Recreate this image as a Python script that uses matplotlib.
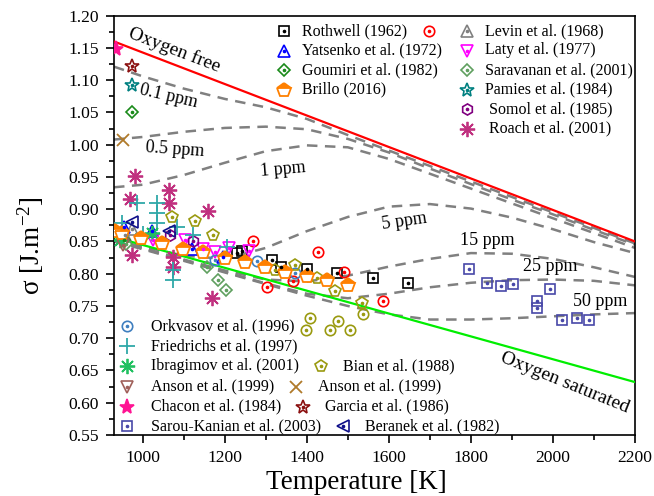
import matplotlib
matplotlib.use("Agg")
import matplotlib.pyplot as plt
from matplotlib.lines import Line2D

plt.rcParams['font.family'] = ['Liberation Serif', 'DejaVu Serif']
plt.rcParams['mathtext.fontset'] = 'custom'
plt.rcParams['mathtext.rm'] = 'Liberation Serif'
plt.rcParams['mathtext.it'] = 'Liberation Serif:italic'

# ---------------- data ----------------
free_T = [930, 2200]
free_sigma = [1.160, 0.850]
sat_T = [930, 2200]
sat_sigma = [0.857, 0.632]

curve_T = [930, 1000, 1100, 1200, 1300, 1400, 1500, 1600, 1700, 1800, 1900, 2000, 2100, 2200]
ppm_0_1 = [1.121, 1.106, 1.087, 1.071, 1.058, 1.040, 1.015, 0.991, 0.967, 0.943, 0.919, 0.895, 0.871, 0.847]
ppm_0_5 = [1.008, 1.012, 1.020, 1.026, 1.028, 1.024, 1.009, 0.988, 0.963, 0.939, 0.915, 0.892, 0.868, 0.845]
ppm_1 = [0.934, 0.938, 0.953, 0.972, 0.990, 0.999, 0.996, 0.978, 0.955, 0.932, 0.909, 0.886, 0.863, 0.840]
ppm_5 = [0.852, 0.842, 0.828, 0.823, 0.840, 0.866, 0.888, 0.904, 0.908, 0.901, 0.887, 0.869, 0.849, 0.832]
ppm_15 = [0.852, 0.840, 0.822, 0.805, 0.791, 0.788, 0.797, 0.811, 0.823, 0.832, 0.831, 0.823, 0.810, 0.795]
ppm_25 = [0.851, 0.839, 0.821, 0.803, 0.785, 0.769, 0.762, 0.769, 0.779, 0.786, 0.790, 0.791, 0.789, 0.782]
ppm_50 = [0.850, 0.838, 0.820, 0.802, 0.784, 0.766, 0.750, 0.737, 0.729, 0.729, 0.731, 0.734, 0.737, 0.739]

rothwell_T = [1229, 1241, 1314, 1336, 1400, 1473, 1562, 1647]
rothwell_s = [0.832, 0.836, 0.821, 0.811, 0.808, 0.801, 0.793, 0.785]
redcircle_T = [1270, 1302, 1366, 1428, 1491, 1586]
redcircle_s = [0.850, 0.780, 0.789, 0.833, 0.802, 0.758]
levin_T = [958, 973]
levin_s = [0.860, 0.870]
yatsenko_T = [955, 1022, 1120, 1195]
yatsenko_s = [0.872, 0.866, 0.838, 0.826]
laty_T = [1026, 1103, 1148, 1176, 1210, 1260]
laty_s = [0.852, 0.852, 0.838, 0.834, 0.840, 0.836]
goumiri_T = [973, 955]
goumiri_s = [1.050, 0.852]
saravanan_T = [1156, 1184, 1203, 960]
saravanan_s = [0.810, 0.791, 0.775, 0.846]
brillo_T = [932, 949, 997, 1046, 1099, 1148, 1200, 1249, 1298, 1347, 1400, 1448, 1500]
brillo_s = [0.866, 0.863, 0.855, 0.847, 0.839, 0.833, 0.825, 0.818, 0.811, 0.803, 0.797, 0.790, 0.782]
pamies_T = [973]
pamies_s = [1.093]
somol_T = [1066, 1123]
somol_s = [0.860, 0.851]
roach_T = [969, 981, 1063, 1063, 1160, 973, 1075, 1073, 1168]
roach_s = [0.916, 0.952, 0.930, 0.909, 0.898, 0.829, 0.826, 0.811, 0.762]
orkvasov_T = [1176, 1278, 1371]
orkvasov_s = [0.821, 0.819, 0.801]
friedrichs_T = [950, 985, 1034, 1034, 1034, 1083, 1075, 1075, 1123, 1205, 1000]
friedrichs_s = [0.878, 0.909, 0.910, 0.894, 0.878, 0.873, 0.806, 0.790, 0.860, 0.842, 0.862]
ibragimov_T = [1022, 945]
ibragimov_s = [0.863, 0.852]
bian_T = [1071, 1127, 1172, 1322, 1371, 1424, 1469, 1534]
bian_s = [0.888, 0.881, 0.860, 0.806, 0.813, 0.793, 0.773, 0.754]
olive_T = [1408, 1398, 1477, 1457, 1506, 1536]
olive_s = [0.732, 0.712, 0.727, 0.713, 0.712, 0.738]
anson_tri_T = [953]
anson_tri_s = [0.845]
anson_x_T = [953]
anson_x_s = [1.007]
chacon_T = [935]
chacon_s = [1.149]
garcia_T = [973]
garcia_s = [1.122]
sarou_T = [1796, 1840, 1873, 1903, 1994, 1962, 1960, 2023, 2058, 2089]
sarou_s = [0.807, 0.785, 0.781, 0.784, 0.776, 0.758, 0.747, 0.728, 0.732, 0.728]
beranek_T = [975, 1065]
beranek_s = [0.880, 0.866]

x_ticks = [1000, 1200, 1400, 1600, 1800, 2000, 2200]
y_ticks = [0.55, 0.60, 0.65, 0.70, 0.75, 0.80, 0.85, 0.90, 0.95, 1.00, 1.05, 1.10, 1.15, 1.20]

# ---------------- styles ----------------
ST = {
    'rothwell': dict(marker='s', color='black', ms=6.5, dot=True),
    'red': dict(marker='o', color='#ff0000', ms=7.5, dot=True),
    'levin': dict(marker='^', color='#808080', ms=8, dot=True),
    'yatsenko': dict(marker='^', color='#0000ff', ms=8, dot=True),
    'laty': dict(marker='v', color='#ff00ff', ms=8, dot=True),
    'goumiri': dict(marker='D', color='#1a8a1a', ms=6.5, dot=True),
    'saravanan': dict(marker='D', color='#5f9f5f', ms=6.5, dot=True),
    'brillo': dict(marker='p', color='#ff8000', ms=10, dot=False, half=True),
    'pamies': dict(marker='*', color='#008080', ms=10, dot=True),
    'somol': dict(marker='h', color='#800080', ms=8, dot=True),
    'roach': dict(marker=(8, 2, 0), color='#c0307f', ms=11, dot=False, line=True),
    'orkvasov': dict(marker='o', color='#3f7fbf', ms=7.5, dot=True),
    'friedrichs': dict(marker='+', color='#2fa8a8', ms=11, dot=False, line=True),
    'ibragimov': dict(marker=(8, 2, 0), color='#20c060', ms=11, dot=False, line=True),
    'bian': dict(marker='p', color='#9a9a10', ms=8.5, dot=True),
    'olive': dict(marker='o', color='#9a9a10', ms=7.5, dot=True),
    'anson_tri': dict(marker='v', color='#a0605a', ms=8, dot=True),
    'anson_x': dict(marker='x', color='#b07a2a', ms=9, dot=False, line=True),
    'chacon': dict(marker='*', color='#ff1493', ms=11, dot=False, filled=True),
    'garcia': dict(marker='*', color='#8b1010', ms=10, dot=True),
    'sarou': dict(marker='s', color='#4848a8', ms=6.5, dot=True),
    'beranek': dict(marker='<', color='#10108a', ms=8, dot=True),
}


def marker_kwargs(st):
    kw = dict(ls='none', marker=st['marker'], ms=st['ms'], mec=st['color'], mew=1.2)
    if st.get('filled'):
        kw['mfc'] = st['color']
    elif st.get('half'):
        kw.update(mfc=st['color'], fillstyle='top', markerfacecoloralt='white', mew=1.3)
    elif st.get('line'):
        kw['mew'] = 1.3
    else:
        kw['mfc'] = 'none'
    return kw


def draw_series(ax, T, s, key):
    st = ST[key]
    ax.plot(T, s, zorder=5, **marker_kwargs(st))
    if st.get('dot'):
        ax.plot(T, s, ls='none', marker='o', ms=1.6, color=st['color'], zorder=6)


W, H = 654, 496
fig = plt.figure(figsize=(W / 100, H / 100), dpi=100)
ax = fig.add_axes([114 / W, 1 - 435 / H, (635 - 114) / W, (435 - 15.7) / H])


def fx(px):
    return px / W


def fy(py):
    return 1 - py / H


# lines
ax.plot(free_T, free_sigma, color='#ff0000', lw=1.6, zorder=3)
ax.plot(sat_T, sat_sigma, color='#00ee00', lw=1.6, zorder=3)
for c in [ppm_0_1, ppm_0_5, ppm_1, ppm_5, ppm_15, ppm_25, ppm_50]:
    ax.plot(curve_T, c, color='#808080', lw=1.8, dashes=(4.2, 3.0), zorder=2)

series = [
    (rothwell_T, rothwell_s, 'rothwell'), (redcircle_T, redcircle_s, 'red'),
    (levin_T, levin_s, 'levin'), (yatsenko_T, yatsenko_s, 'yatsenko'),
    (laty_T, laty_s, 'laty'), (goumiri_T, goumiri_s, 'goumiri'),
    (saravanan_T, saravanan_s, 'saravanan'), (pamies_T, pamies_s, 'pamies'),
    (somol_T, somol_s, 'somol'), (roach_T, roach_s, 'roach'),
    (orkvasov_T, orkvasov_s, 'orkvasov'), (friedrichs_T, friedrichs_s, 'friedrichs'),
    (ibragimov_T, ibragimov_s, 'ibragimov'), (bian_T, bian_s, 'bian'),
    (olive_T, olive_s, 'olive'), (anson_tri_T, anson_tri_s, 'anson_tri'),
    (anson_x_T, anson_x_s, 'anson_x'), (chacon_T, chacon_s, 'chacon'),
    (garcia_T, garcia_s, 'garcia'), (sarou_T, sarou_s, 'sarou'),
    (beranek_T, beranek_s, 'beranek'), (brillo_T, brillo_s, 'brillo'),
]
for T, s, k in series:
    draw_series(ax, T, s, k)

ax.set_xlim(930, 2200)
ax.set_ylim(0.55, 1.20)
ax.set_xticks(x_ticks)
ax.set_yticks(y_ticks)
ax.set_yticklabels([f"{v:.2f}" for v in y_ticks])
ax.set_xticks(range(1000, 2201, 100), minor=True)
ax.set_yticks([0.55 + 0.025 * i for i in range(27)], minor=True)
ax.tick_params(which='both', direction='out', top=False, right=False, width=1.2,
               labelsize=12.6, pad=5)
ax.tick_params(which='major', length=6)
ax.tick_params(which='minor', length=3.5)
for sp in ax.spines.values():
    sp.set_linewidth(1.2)

# axis labels
fig.text(fx(356), fy(489), 'Temperature [K]', fontsize=19.5, ha='center', va='baseline')
fig.text(fx(31), fy(246), r'σ [J.m$^{\mathregular{-2}}$]', fontsize=19.5,
         rotation=90, ha='center', va='center')

# curve annotations
ann = [
    ('Oxygen free', 174, 50, -21, 14),
    ('0.1 ppm', 169, 96, -13, 13),
    ('0.5 ppm', 175, 149.5, -4, 13),
    ('1 ppm', 283, 170, 5, 13),
    ('5 ppm', 404, 221, 8, 13),
    ('15 ppm', 487, 240.5, 0, 13),
    ('25 ppm', 550, 266.5, 0, 13),
    ('50 ppm', 600, 301, 0, 13),
    ('Oxygen saturated', 565, 383, -22, 14),
]
for s, x, y, r, f in ann:
    fig.text(fx(x), fy(y), s, fontsize=f, rotation=r, ha='center', va='center',
             rotation_mode='anchor')

# legends (manual, figure pixel layout)
LFS = 11.5


def leg_marker(x, y, key):
    st = ST[key]
    fig.add_artist(Line2D([fx(x)], [fy(y)], transform=fig.transFigure, **marker_kwargs(st)))
    if st.get('dot'):
        fig.add_artist(Line2D([fx(x)], [fy(y)], transform=fig.transFigure, ls='none',
                              marker='o', ms=1.6, color=st['color']))


def leg_text(x, y, s):
    return fig.text(fx(x), fy(y), s, fontsize=LFS, ha='left', va='center')


renderer = fig.canvas.get_renderer()

leg1_left = [('rothwell', 'Rothwell (1962)'), ('yatsenko', 'Yatsenko et al. (1972)'),
             ('goumiri', 'Goumiri et al. (1982)'), ('brillo', 'Brillo (2016)')]
leg1_right = [('levin', 'Levin et al. (1968)'), ('laty', 'Laty et al. (1977)'),
              ('saravanan', 'Saravanan et al. (2001)'), ('pamies', 'Pamies et al. (1984)'),
              ('somol', ' Somol et al. (1985)'), ('roach', ' Roach et al. (2001)')]
rows1 = [31, 50.5, 70, 89.5, 109, 128.5]
for i, (k, s) in enumerate(leg1_left):
    leg_marker(284, rows1[i], k)
    t = leg_text(301.7, rows1[i], s)
    if i == 0:
        bb = t.get_window_extent(renderer)
        leg_marker(bb.x1 + 22, rows1[i], 'red')
for i, (k, s) in enumerate(leg1_right):
    leg_marker(467, rows1[i], k)
    leg_text(485, rows1[i], s)

leg2 = [
    (('orkvasov', 'Orkvasov et al. (1996)'), None),
    (('friedrichs', 'Friedrichs et al. (1997)'), None),
    (('ibragimov', 'Ibragimov et al. (2001)'), ('bian', 'Bian et al. (1988)')),
    (('anson_tri', 'Anson et al. (1999)'), ('anson_x', 'Anson et al. (1999)')),
    (('chacon', 'Chacon et al. (1984)'), ('garcia', 'Garcia et al. (1986)')),
    (('sarou', 'Sarou-Kanian et al. (2003)'), ('beranek', 'Beranek et al. (1982)')),
]
rows2 = [326, 346, 366, 386.7, 406.7, 426]
for i, (left, right) in enumerate(leg2):
    leg_marker(126.7, rows2[i], left[0])
    t = leg_text(151, rows2[i], left[1])
    if right is not None:
        bb = t.get_window_extent(renderer)
        xr = bb.x1 + 22
        leg_marker(xr, rows2[i], right[0])
        leg_text(xr + 22, rows2[i], right[1])

fig.savefig('out.png', dpi=100)
